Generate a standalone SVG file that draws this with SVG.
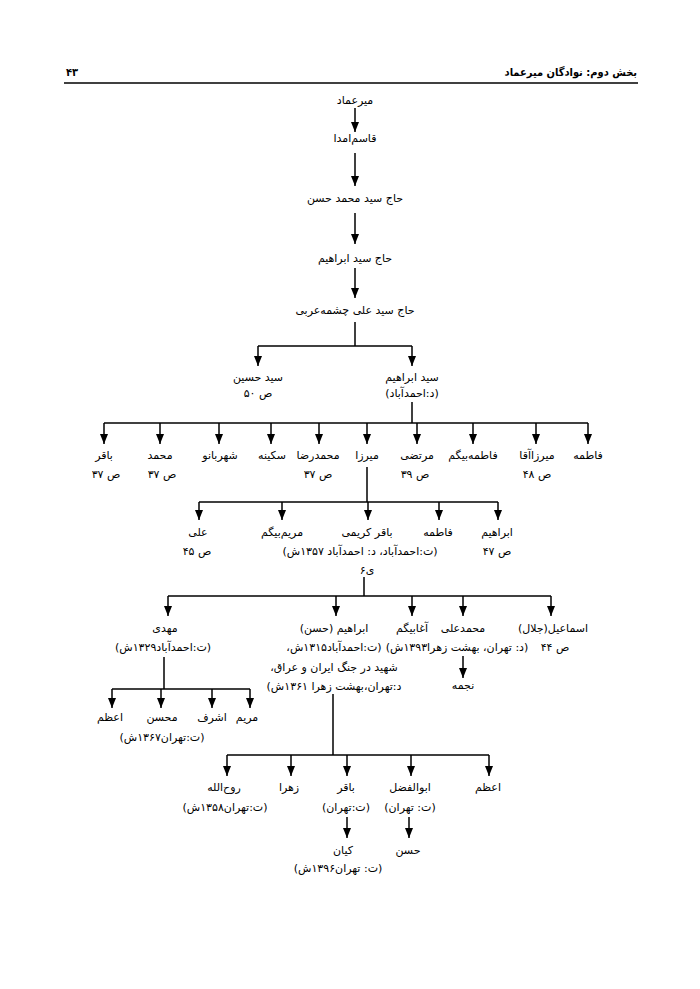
<svg xmlns="http://www.w3.org/2000/svg" width="700" height="989" viewBox="0 0 700 989">
<style>
text{font-family:"DejaVu Sans","Noto Sans",sans-serif;font-size:11px;fill:#000;direction:rtl;text-anchor:middle}
.hd{font-family:"DejaVu Sans Condensed","DejaVu Sans",sans-serif;font-weight:bold;font-size:11px;text-anchor:start}
.ln{stroke:#000;stroke-width:1.5;fill:none}
.ar{stroke:#000;stroke-width:1.5;fill:none;marker-end:url(#ah)}
</style>
<defs>
<marker id="ah" markerUnits="userSpaceOnUse" markerWidth="10" markerHeight="8" refX="10" refY="4" orient="auto" viewBox="0 0 10 8">
<path d="M0,0 L10,4 L0,8 z" fill="#000"/>
</marker>
</defs>
<rect width="700" height="989" fill="#fff"/>
<g id="header">
<text class="hd" x="637" y="76">بخش دوم: نوادگان میرعماد</text>
<text class="hd" x="78" y="76">۴۳</text>
<line x1="64" y1="83" x2="638" y2="83" stroke="#000" stroke-width="1.5"/>
</g>
<g id="connectors">
<line class="ar" x1="355" y1="108" x2="355" y2="132"/>
<line class="ar" x1="355" y1="153" x2="355" y2="186"/>
<line class="ar" x1="355" y1="213" x2="355" y2="244"/>
<line class="ar" x1="355" y1="268" x2="355" y2="298"/>
<polyline class="ln" points="355,322 355,346"/>
<polyline class="ln" points="258,346 412,346"/>
<line class="ar" x1="258" y1="346" x2="258" y2="366"/>
<line class="ar" x1="412" y1="346" x2="412" y2="366"/>
<polyline class="ln" points="412,402 412,423"/>
<polyline class="ln" points="104,423 588,423"/>
<line class="ar" x1="104" y1="423" x2="104" y2="444"/>
<line class="ar" x1="160" y1="423" x2="160" y2="444"/>
<line class="ar" x1="219" y1="423" x2="219" y2="444"/>
<line class="ar" x1="271" y1="423" x2="271" y2="444"/>
<line class="ar" x1="319" y1="423" x2="319" y2="444"/>
<line class="ar" x1="367" y1="423" x2="367" y2="444"/>
<line class="ar" x1="417" y1="423" x2="417" y2="444"/>
<line class="ar" x1="473" y1="423" x2="473" y2="444"/>
<line class="ar" x1="536" y1="423" x2="536" y2="444"/>
<line class="ar" x1="588" y1="423" x2="588" y2="444"/>
<polyline class="ln" points="367,467 367,502"/>
<polyline class="ln" points="199,502 498,502"/>
<line class="ar" x1="199" y1="502" x2="199" y2="520"/>
<line class="ar" x1="282" y1="502" x2="282" y2="520"/>
<line class="ar" x1="368" y1="502" x2="368" y2="520"/>
<line class="ar" x1="439" y1="502" x2="439" y2="520"/>
<line class="ar" x1="498" y1="502" x2="498" y2="520"/>
<polyline class="ln" points="364,577 364,596"/>
<polyline class="ln" points="168,596 551,596"/>
<line class="ar" x1="168" y1="596" x2="168" y2="616"/>
<line class="ar" x1="336" y1="596" x2="336" y2="616"/>
<line class="ar" x1="412" y1="596" x2="412" y2="616"/>
<line class="ar" x1="463" y1="596" x2="463" y2="616"/>
<line class="ar" x1="551" y1="596" x2="551" y2="616"/>
<line class="ar" x1="463" y1="656" x2="463" y2="678"/>
<polyline class="ln" points="164,657 164,689"/>
<polyline class="ln" points="112,689 250,689"/>
<line class="ar" x1="112" y1="689" x2="112" y2="708"/>
<line class="ar" x1="161" y1="689" x2="161" y2="708"/>
<line class="ar" x1="212" y1="689" x2="212" y2="708"/>
<line class="ar" x1="250" y1="689" x2="250" y2="708"/>
<polyline class="ln" points="333,694 333,755"/>
<polyline class="ln" points="227,755 489,755"/>
<line class="ar" x1="227" y1="755" x2="227" y2="776"/>
<line class="ar" x1="291" y1="755" x2="291" y2="776"/>
<line class="ar" x1="347" y1="755" x2="347" y2="776"/>
<line class="ar" x1="411" y1="755" x2="411" y2="776"/>
<line class="ar" x1="489" y1="755" x2="489" y2="776"/>
<line class="ar" x1="347" y1="817" x2="347" y2="838"/>
<line class="ar" x1="409" y1="817" x2="409" y2="838"/>
</g>
<g id="n-mirimad"><text x="355" y="104">میرعماد</text></g>
<g id="n-qasem"><text x="355" y="142">قاسم‌امدا</text></g>
<g id="n-mhasan"><text x="355" y="202">حاج سید محمد حسن</text></g>
<g id="n-hebrahim"><text x="355" y="262">حاج سید ابراهیم</text></g>
<g id="n-ali-cheshme"><text x="355" y="314">حاج سید علی چشمه‌عربی</text></g>
<g id="n-hosein"><text x="258" y="381">سید حسین</text><text x="258" y="397">ص ۵۰</text></g>
<g id="n-sebrahim"><text x="412" y="381">سید ابراهیم</text><text x="412" y="397">(د:احمدآباد)</text></g>
<g id="n-bagher1"><text x="104" y="459">باقر</text><text x="106" y="478">ص ۳۷</text></g>
<g id="n-mohammad"><text x="160" y="459">محمد</text><text x="162" y="478">ص ۳۷</text></g>
<g id="n-shahrbanoo"><text x="220" y="459">شهربانو</text></g>
<g id="n-sakineh"><text x="272" y="459">سکینه</text></g>
<g id="n-mreza"><text x="318" y="459">محمدرضا</text><text x="318" y="478">ص ۳۷</text></g>
<g id="n-mirza"><text x="367" y="459">میرزا</text></g>
<g id="n-morteza"><text x="417" y="459">مرتضی</text><text x="415" y="478">ص ۳۹</text></g>
<g id="n-fbeygom"><text x="473" y="459">فاطمه‌بیگم</text></g>
<g id="n-mirzaagha"><text x="537" y="459">میرزاآقا</text><text x="537" y="478">ص ۴۸</text></g>
<g id="n-fatemeh1"><text x="588" y="459">فاطمه</text></g>
<g id="n-ali2"><text x="198" y="536">علی</text><text x="197" y="555">ص ۴۵</text></g>
<g id="n-maryambeygom"><text x="282" y="536">مریم‌بیگم</text></g>
<g id="n-bagherkarimi"><text x="367" y="536">باقر کریمی</text><text x="360" y="555">(ت:احمدآباد، د: احمدآباد ۱۳۵۷ش)</text><text x="367" y="574">ی۶</text></g>
<g id="n-fatemeh2"><text x="438" y="536">فاطمه</text></g>
<g id="n-ebrahim2"><text x="497" y="536">ابراهیم</text><text x="497" y="555">ص ۴۷</text></g>
<g id="n-mahdi"><text x="165" y="632">مهدی</text><text x="163" y="651">(ت:احمدآباد۱۳۲۹ش)</text></g>
<g id="n-ebrahimhasan"><text x="334" y="632">ابراهیم (حسن)</text><text x="334" y="651">(ت:احمدآباد۱۳۱۵ش،</text><text x="334" y="671">شهید در جنگ ایران و عراق،</text><text x="334" y="690">د:تهران،بهشت زهرا ۱۳۶۱ش)</text></g>
<g id="n-aghabeygom"><text x="412" y="632">آغابیگم</text></g>
<g id="n-mali"><text x="463" y="632">محمدعلی</text><text x="457" y="651">(د: تهران، بهشت زهرا۱۳۹۳ش)</text></g>
<g id="n-najmeh"><text x="463" y="689">نجمه</text></g>
<g id="n-esmaeil"><text x="553" y="632">اسماعیل(جلال)</text><text x="555" y="651">ص ۴۴</text></g>
<g id="n-azam1"><text x="110" y="721">اعظم</text></g>
<g id="n-mohsen"><text x="162" y="721">محسن</text><text x="162" y="741">(ت:تهران۱۳۶۷ش)</text></g>
<g id="n-ashraf"><text x="212" y="721">اشرف</text></g>
<g id="n-maryam"><text x="247" y="721">مریم</text></g>
<g id="n-rouhollah"><text x="224" y="791">روح‌الله</text><text x="225" y="811">(ت:تهران۱۳۵۸ش)</text></g>
<g id="n-zahra"><text x="289" y="791">زهرا</text></g>
<g id="n-bagher2"><text x="346" y="791">باقر</text><text x="346" y="811">(ت:تهران)</text></g>
<g id="n-abolfazl"><text x="410" y="791">ابوالفضل</text><text x="410" y="811">(ت: تهران)</text></g>
<g id="n-azam2"><text x="488" y="791">اعظم</text></g>
<g id="n-kian"><text x="343" y="854">کیان</text><text x="338" y="872">(ت: تهران۱۳۹۶ش)</text></g>
<g id="n-hasan2"><text x="408" y="854">حسن</text></g>
</svg>
